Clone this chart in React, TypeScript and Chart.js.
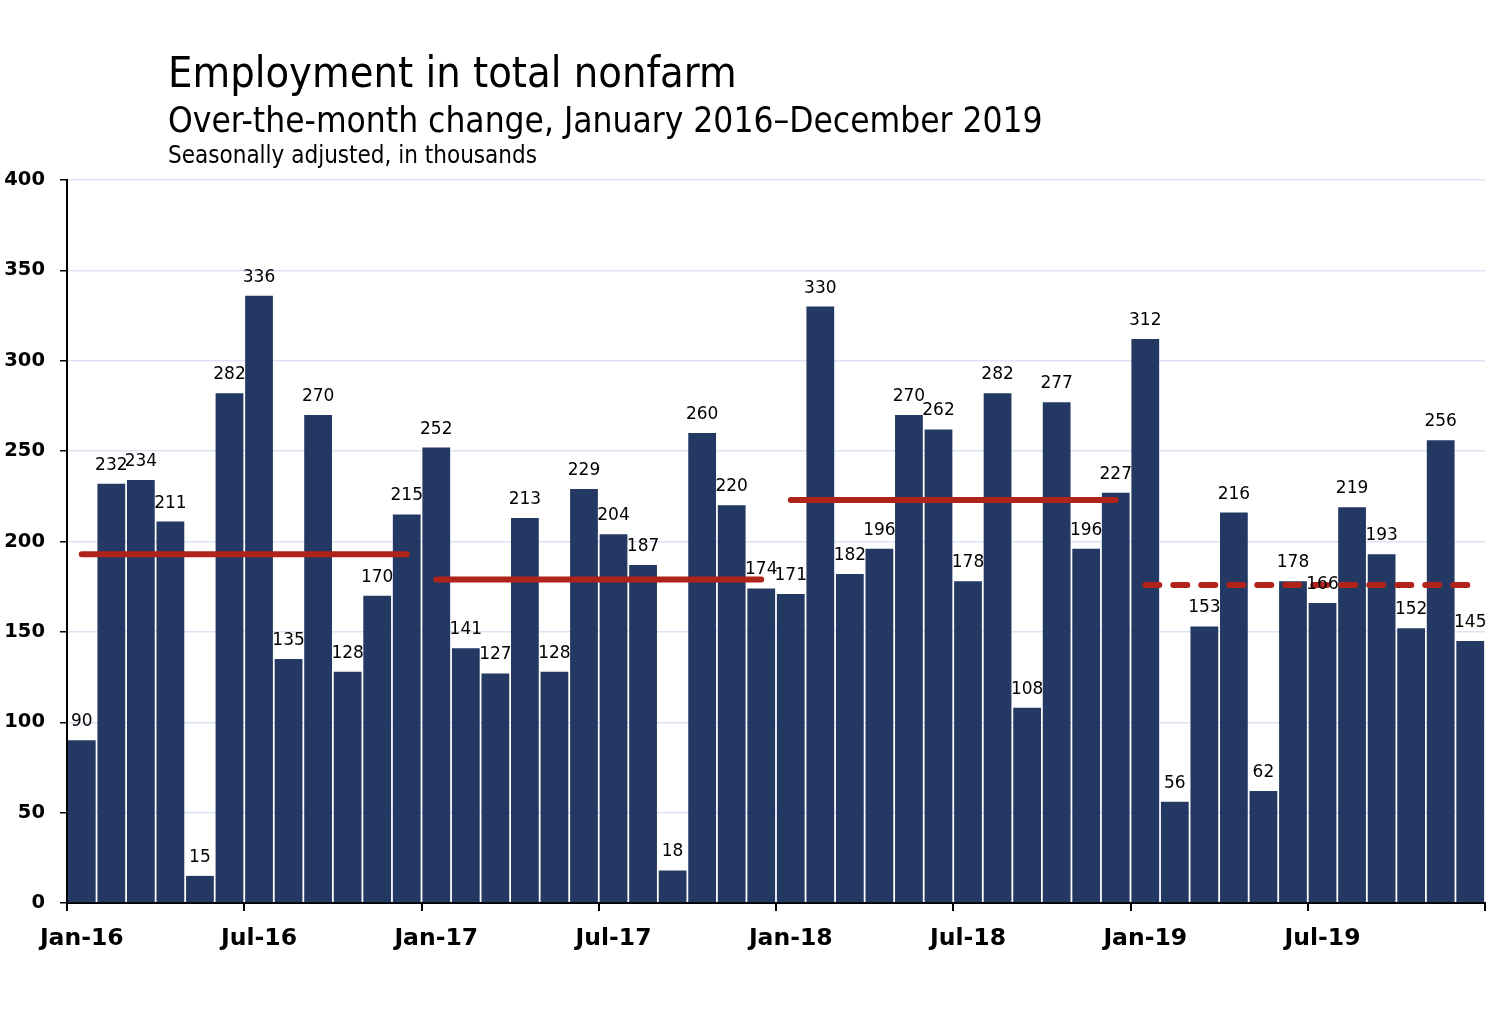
import React, { useEffect, useRef } from 'react';
import { Chart, registerables } from 'chart.js';

Chart.register(...registerables);

const monthNames = ['Jan', 'Feb', 'Mar', 'Apr', 'May', 'Jun', 'Jul', 'Aug', 'Sep', 'Oct', 'Nov', 'Dec'];
const years = ['16', '17', '18', '19'];

// over-the-month change, in thousands
const change2016 = [90, 232, 234, 211, 15, 282, 336, 135, 270, 128, 170, 215];
const change2017 = [252, 141, 127, 213, 128, 229, 204, 187, 18, 260, 220, 174];
const change2018 = [171, 330, 182, 196, 270, 262, 178, 282, 108, 277, 196, 227];
const change2019 = [312, 56, 153, 216, 62, 178, 166, 219, 193, 152, 256, 145];

// average monthly gain for each year (the red lines)
const yearAverages = [193, 179, 223, 176];

const yTickValues = [0, 50, 100, 150, 200, 250, 300, 350, 400];

const categories = years.flatMap((y) => monthNames.map((m) => `${m}-${y}`));
const monthly = [...change2016, ...change2017, ...change2018, ...change2019];

const FONT = '"DejaVu Sans", Verdana, sans-serif';
const TITLE_FONT = '"DejaVu Sans Condensed", "DejaVu Sans", Tahoma, sans-serif';
const BAR_COLOR = '#233862';
const AVG_COLOR = '#b0231b';

// value labels above each bar, drawn after the lines so they sit on top
const barLabels = {
  id: 'barLabels',
  afterDatasetsDraw(chart: Chart) {
    const ctx = chart.ctx;
    const meta = chart.getDatasetMeta(0);
    ctx.save();
    ctx.font = `17px ${FONT}`;
    ctx.fillStyle = '#000';
    ctx.textAlign = 'center';
    ctx.textBaseline = 'alphabetic';
    meta.data.forEach((bar: any, i: number) => {
      ctx.fillText(String(monthly[i]), bar.x, bar.y - 14);
    });
    ctx.restore();
  },
};

const App: React.FC = () => {
  const canvasRef = useRef<HTMLCanvasElement>(null);
  const chartRef = useRef<Chart | null>(null);

  useEffect(() => {
    if (!canvasRef.current) return;
    if (chartRef.current) chartRef.current.destroy();

    const avgLines = yearAverages.map((avg, yi) => ({
      type: 'line' as const,
      data: categories.map((_, i) => (Math.floor(i / 12) === yi ? avg : null)),
      borderColor: AVG_COLOR,
      borderWidth: 6,
      borderCapStyle: 'round' as const,
      borderDash: yi === 3 ? [14, 14] : [],
      pointRadius: 0,
      spanGaps: false,
      order: 1,
    }));

    chartRef.current = new Chart(canvasRef.current, {
      type: 'bar',
      data: {
        labels: categories,
        datasets: [
          {
            type: 'bar',
            data: monthly,
            backgroundColor: BAR_COLOR,
            categoryPercentage: 1,
            barPercentage: 0.94,
            order: 2,
          },
          ...avgLines,
        ] as any,
      },
      options: {
        responsive: false,
        animation: false,
        layout: { padding: { top: 180, left: 0, right: 3, bottom: 0 } },
        plugins: {
          legend: { display: false },
          tooltip: { enabled: false },
        },
        scales: {
          x: {
            type: 'category',
            offset: true,
            afterFit: (s: any) => {
              s.height = 112;
            },
            grid: {
              offset: true,
              drawOnChartArea: false,
              tickLength: 8,
              lineWidth: 2,
              color: (c: any) =>
                c.index === undefined || c.index % 6 === 0 ? '#000' : 'rgba(0,0,0,0)',
            },
            border: { color: '#000', width: 2 },
            ticks: {
              autoSkip: false,
              maxRotation: 0,
              padding: 14,
              color: '#000',
              font: { family: FONT, size: 23.5, weight: 'bold' },
              callback: (_v: any, i: number) => (i % 6 === 0 ? categories[i] : ''),
            },
          },
          y: {
            min: 0,
            max: 400,
            afterFit: (s: any) => {
              s.width = 67;
            },
            afterBuildTicks: (s: any) => {
              s.ticks = yTickValues.map((v) => ({ value: v }));
            },
            grid: {
              color: (c: any) => (c.tick && c.tick.value === 0 ? 'rgba(0,0,0,0)' : '#dce3f3'),
              tickColor: '#000',
              tickLength: 7,
              lineWidth: 1.5,
            },
            border: { color: '#000', width: 2 },
            ticks: {
              padding: 15,
              color: '#000',
              font: { family: FONT, size: 19.5, weight: 'bold' },
            },
          },
        },
      },
      plugins: [barLabels],
    });

    return () => {
      if (chartRef.current) {
        chartRef.current.destroy();
        chartRef.current = null;
      }
    };
  }, []);

  const textBase: React.CSSProperties = {
    position: 'absolute',
    left: 168,
    margin: 0,
    lineHeight: 1,
    fontFamily: TITLE_FONT,
    color: '#000',
    whiteSpace: 'nowrap',
    fontWeight: 'normal',
  };

  return (
    <div style={{ position: 'absolute', left: 0, top: 0, width: 1488, height: 1015, background: '#fff' }}>
      <canvas ref={canvasRef} width={1488} height={1015} style={{ display: 'block' }} />
      <div style={{ ...textBase, top: 51, fontSize: 43 }}>Employment in total nonfarm</div>
      <div style={{ ...textBase, top: 103, fontSize: 35 }}>
        Over-the-month change, January 2016–December 2019
      </div>
      <div style={{ ...textBase, top: 143, fontSize: 24 }}>Seasonally adjusted, in thousands</div>
    </div>
  );
};

export default App;
